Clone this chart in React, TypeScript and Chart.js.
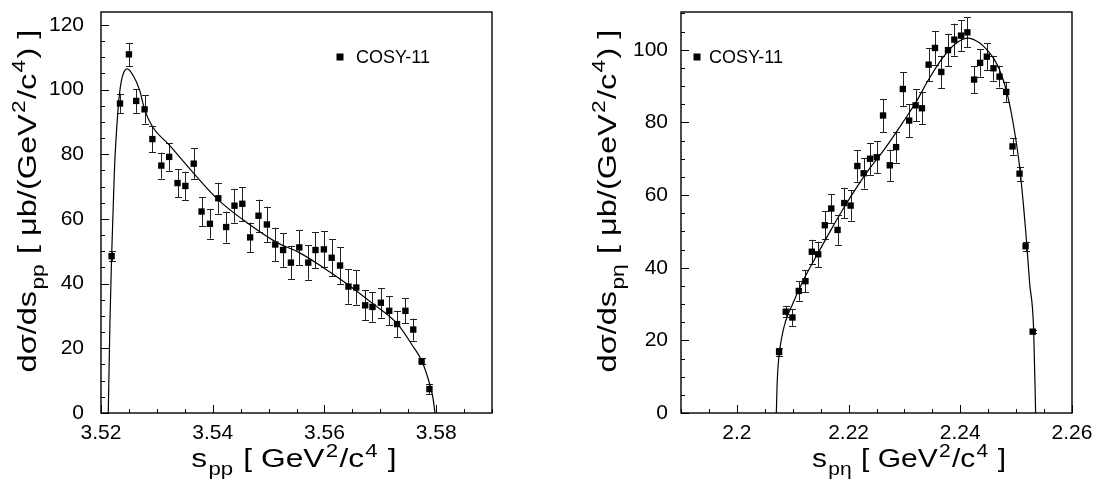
import React, { useEffect, useRef } from "react";
import { Chart, registerables } from "chart.js";

Chart.register(...registerables);

// ---------- Left panel: pp invariant mass ----------
const ppS = [3.5219, 3.5234, 3.525, 3.5263, 3.5278, 3.5292, 3.5308, 3.5322, 3.5337, 3.5351, 3.5366, 3.538, 3.5395, 3.541, 3.5424, 3.5439, 3.5453, 3.5467, 3.5482, 3.5497, 3.5512, 3.5526, 3.554, 3.5555, 3.5571, 3.5584, 3.5599, 3.5613, 3.5628, 3.5643, 3.5657, 3.5673, 3.5686, 3.5701, 3.5716, 3.573, 3.5745, 3.5759, 3.5774, 3.5788];
const ppY = [48.5, 95.7, 110.9, 96.5, 93.9, 84.7, 76.5, 79.2, 71.1, 70.2, 77.1, 62.3, 58.5, 66.4, 57.5, 64.1, 64.7, 54.3, 61.0, 58.3, 52.1, 50.4, 46.5, 51.2, 46.5, 50.4, 50.6, 48.0, 45.6, 39.1, 38.8, 33.3, 32.8, 34.1, 31.6, 27.5, 31.6, 25.8, 16.0, 7.4];
const ppErr = [1.5, 3.0, 3.6, 3.7, 4.4, 4.0, 4.0, 4.3, 4.3, 4.4, 4.7, 4.5, 4.6, 4.8, 4.8, 5.2, 5.2, 4.6, 5.0, 5.5, 5.2, 5.2, 5.2, 5.4, 5.3, 5.6, 5.6, 5.7, 5.7, 5.3, 5.3, 4.6, 4.6, 4.6, 4.5, 4.1, 3.9, 3.4, 1.0, 1.5];
const ppFitS = [3.5213, 3.5216, 3.5219, 3.5224, 3.523, 3.5234, 3.5239, 3.5247, 3.5257, 3.5269, 3.5278, 3.5292, 3.5322, 3.5366, 3.541, 3.5453, 3.5512, 3.5555, 3.5597, 3.5643, 3.5686, 3.573, 3.5759, 3.5774, 3.5788, 3.5794, 3.5798];
const ppFitY = [0, 28, 48.5, 75, 92.8, 100, 104.5, 106.4, 104.5, 99.9, 93.9, 88.6, 82.9, 74.1, 65.9, 59.9, 53.0, 49.6, 45.1, 39.6, 33.9, 27.7, 20.5, 16.2, 9.2, 5, 0];
const ppXTicks = [3.52, 3.54, 3.56, 3.58];
const ppYTicks = [0, 20, 40, 60, 80, 100, 120];

// ---------- Right panel: p-eta invariant mass ----------
const pEtaS = [2.20756, 2.20875, 2.20995, 2.21108, 2.21228, 2.21342, 2.21456, 2.21575, 2.2169, 2.21803, 2.21923, 2.22037, 2.22157, 2.2227, 2.22384, 2.22504, 2.22617, 2.22738, 2.22851, 2.22971, 2.23085, 2.232, 2.23313, 2.23433, 2.23547, 2.2366, 2.2378, 2.23893, 2.24014, 2.24127, 2.24247, 2.24355, 2.24475, 2.24594, 2.24702, 2.24822, 2.24935, 2.25061, 2.25169, 2.25296];
const pEtaY = [16.8, 27.9, 26.3, 33.6, 36.3, 44.4, 43.7, 51.7, 56.3, 50.4, 57.8, 57.1, 68.0, 66.0, 70.0, 70.4, 81.9, 68.2, 73.2, 89.2, 80.5, 84.7, 83.9, 95.9, 100.5, 93.9, 99.9, 102.8, 103.9, 104.8, 91.8, 96.4, 98.1, 94.9, 92.6, 88.4, 73.4, 65.9, 45.9, 22.4];
const pEtaErr = [1.2, 1.6, 2.3, 2.7, 3.1, 3.3, 3.5, 3.9, 4.0, 4.1, 4.2, 4.2, 4.3, 4.2, 4.4, 4.4, 4.6, 4.3, 4.3, 4.7, 4.5, 4.4, 4.4, 4.5, 4.6, 4.4, 4.5, 4.4, 4.3, 4.1, 3.7, 3.8, 3.7, 3.4, 3.0, 2.8, 2.3, 1.9, 1.3, 0.5];
const pEtaFitS = [2.20707, 2.2072, 2.20738, 2.20797, 2.20875, 2.20995, 2.21228, 2.21456, 2.21695, 2.21934, 2.22157, 2.22384, 2.22594, 2.22971, 2.232, 2.23433, 2.2366, 2.23893, 2.24127, 2.24355, 2.24475, 2.24594, 2.24702, 2.24822, 2.24935, 2.25061, 2.25169, 2.25241, 2.25313, 2.25349];
const pEtaFitY = [0, 7.5, 13, 20.3, 25.4, 29.9, 37.7, 44.1, 50.7, 57, 62.4, 67.5, 71.6, 80, 85.4, 91.8, 97.3, 101.4, 103.2, 101.8, 100, 97.7, 94.5, 89, 80.8, 67.9, 50.5, 35.9, 23.1, 0];
const pEtaXTicks = [2.2, 2.22, 2.24, 2.26];
const pEtaYTicks = [0, 20, 40, 60, 80, 100];

const legendLabel = "COSY-11";
const FONT = "'Liberation Sans', Arial, Helvetica, sans-serif";

type Seg = { t: string; k?: "sub" | "sup" };

const ppXTitle: Seg[] = [{ t: "s" }, { t: "pp", k: "sub" }, { t: " [ GeV" }, { t: "2", k: "sup" }, { t: "/c" }, { t: "4", k: "sup" }, { t: " ]" }];
const ppYTitle: Seg[] = [{ t: "dσ/ds" }, { t: "pp", k: "sub" }, { t: " [ μb/(GeV" }, { t: "2", k: "sup" }, { t: "/c" }, { t: "4", k: "sup" }, { t: ") ]" }];
const pEtaXTitle: Seg[] = [{ t: "s" }, { t: "pη", k: "sub" }, { t: " [ GeV" }, { t: "2", k: "sup" }, { t: "/c" }, { t: "4", k: "sup" }, { t: " ]" }];
const pEtaYTitle: Seg[] = [{ t: "dσ/ds" }, { t: "pη", k: "sub" }, { t: " [ μb/(GeV" }, { t: "2", k: "sup" }, { t: "/c" }, { t: "4", k: "sup" }, { t: ") ]" }];

function drawRich(ctx: CanvasRenderingContext2D, segs: Seg[], size: number, stretch: number) {
  const small = size * 0.7;
  const fontFor = (s: Seg) => `${s.k ? small : size}px ${FONT}`;
  let total = 0;
  const widths = segs.map((s) => {
    ctx.font = fontFor(s);
    const w = ctx.measureText(s.t).width + (s.k ? size * 0.08 : 0);
    total += w;
    return w;
  });
  ctx.save();
  ctx.scale(stretch, 1);
  let x = -total / 2;
  ctx.textBaseline = "alphabetic";
  ctx.textAlign = "left";
  ctx.fillStyle = "#000";
  segs.forEach((s, i) => {
    ctx.font = fontFor(s);
    let dy = 0;
    if (s.k === "sub") dy = size * 0.3;
    if (s.k === "sup") dy = -size * 0.42;
    ctx.fillText(s.t, x + (s.k ? size * 0.04 : 0), dy);
    x += widths[i];
  });
  ctx.restore();
}

const decorPlugin = {
  id: "decor",
  beforeDatasetsDraw(chart: any) {
    const ctx = chart.ctx as CanvasRenderingContext2D;
    const ys = chart.scales.y;
    ctx.save();
    ctx.strokeStyle = "#222";
    ctx.lineWidth = 1;
    chart.data.datasets.forEach((ds: any, i: number) => {
      if (!ds.errors) return;
      const meta = chart.getDatasetMeta(i);
      meta.data.forEach((pt: any, k: number) => {
        const v = ds.data[k].y;
        const e = ds.errors[k];
        const x = Math.round(pt.x) + 0.5;
        const yt = ys.getPixelForValue(v + e);
        const yb = ys.getPixelForValue(v - e);
        ctx.beginPath();
        ctx.moveTo(x, yt);
        ctx.lineTo(x, yb);
        ctx.moveTo(x - 3.5, Math.round(yt) + 0.5);
        ctx.lineTo(x + 3.5, Math.round(yt) + 0.5);
        ctx.moveTo(x - 3.5, Math.round(yb) + 0.5);
        ctx.lineTo(x + 3.5, Math.round(yb) + 0.5);
        ctx.stroke();
      });
    });
    ctx.restore();
  },
  afterDraw(chart: any, _a: any, opts: any) {
    const ctx = chart.ctx as CanvasRenderingContext2D;
    const { left, right, top, bottom } = chart.chartArea;
    const xs = chart.scales.x;
    const ys = chart.scales.y;
    ctx.save();
    // frame
    ctx.strokeStyle = "#000";
    ctx.lineWidth = 1.4;
    ctx.strokeRect(left, top, right - left, bottom - top);
    // ticks (inward, bottom and left axes only)
    ctx.lineWidth = 1;
    ctx.beginPath();
    const xStart = Math.ceil(xs.min / opts.xMinor - 1e-6);
    for (let j = xStart; j * opts.xMinor <= xs.max + 1e-9; j++) {
      const v = j * opts.xMinor;
      const major = Math.abs(v / opts.xMajor - Math.round(v / opts.xMajor)) < 1e-6;
      const px = Math.round(xs.getPixelForValue(v)) + 0.5;
      ctx.moveTo(px, bottom);
      ctx.lineTo(px, bottom - (major ? 8 : 4));
    }
    for (let v = ys.min; v <= ys.max + 1e-9; v += opts.yMinor) {
      const major = Math.abs(v % opts.yMajor) < 1e-6;
      const py = Math.round(ys.getPixelForValue(v)) + 0.5;
      ctx.moveTo(left, py);
      ctx.lineTo(left + (major ? 8 : 4), py);
    }
    ctx.stroke();
    // legend
    ctx.fillStyle = "#000";
    ctx.fillRect(opts.legend.x - 3.5, opts.legend.y - 3.5, 7, 7);
    ctx.font = `18px ${FONT}`;
    ctx.textBaseline = "middle";
    ctx.textAlign = "left";
    ctx.fillText(opts.legend.text, opts.legend.tx, opts.legend.y + 1);
    // x title
    ctx.save();
    ctx.translate(opts.xTitle.cx, opts.xTitle.base);
    drawRich(ctx, opts.xTitle.segs, opts.xTitle.size, opts.xTitle.stretch);
    ctx.restore();
    // y title
    ctx.save();
    ctx.translate(opts.yTitle.base, opts.yTitle.cy);
    ctx.rotate(-Math.PI / 2);
    drawRich(ctx, opts.yTitle.segs, opts.yTitle.size, opts.yTitle.stretch);
    ctx.restore();
    ctx.restore();
  },
};

type PanelSpec = {
  s: number[]; y: number[]; err: number[]; fitS: number[]; fitY: number[];
  xMin: number; xMax: number; yMax: number; xTicks: number[]; yTicks: number[];
  yWidth: number; rightPad: number; yPad: number;
  decor: any;
};

function zeroPad(s: any) {
  s.paddingTop = 0;
  s.paddingBottom = 0;
  s.paddingLeft = 0;
  s.paddingRight = 0;
}

function Panel({ spec }: { spec: PanelSpec }) {
  const ref = useRef<HTMLCanvasElement | null>(null);
  useEffect(() => {
    if (!ref.current) return;
    const points = spec.s.map((x, i) => ({ x, y: spec.y[i] }));
    const fit = spec.fitS.map((x, i) => ({ x, y: spec.fitY[i] }));
    const tickFont = { family: FONT, size: 21 };
    const chart = new Chart(ref.current, {
      type: "scatter",
      data: {
        datasets: [
          {
            type: "line",
            data: fit,
            borderColor: "#000",
            borderWidth: 1.2,
            pointRadius: 0,
            cubicInterpolationMode: "monotone",
            fill: false,
            order: 2,
          } as any,
          {
            data: points,
            pointStyle: "rect",
            pointRadius: 4.5,
            backgroundColor: "#000",
            borderColor: "#000",
            borderWidth: 0,
            order: 1,
            errors: spec.err,
          } as any,
        ],
      },
      options: {
        responsive: false,
        animation: false,
        devicePixelRatio: 1,
        events: [],
        layout: { padding: { top: 12, right: spec.rightPad, left: 0, bottom: 0 } },
        plugins: {
          legend: { display: false },
          tooltip: { enabled: false },
          decor: spec.decor,
        } as any,
        scales: {
          x: {
            type: "linear",
            min: spec.xMin,
            max: spec.xMax,
            grid: { display: false, drawTicks: false },
            border: { display: false },
            afterFit: (s: any) => { s.height = 72; zeroPad(s); },
            afterBuildTicks: (s: any) => { s.ticks = spec.xTicks.map((v) => ({ value: v })); },
            ticks: { font: tickFont, color: "#000", padding: 8, maxRotation: 0, autoSkip: false, callback: (v: any) => String(v) },
          },
          y: {
            type: "linear",
            min: 0,
            max: spec.yMax,
            grid: { display: false, drawTicks: false },
            border: { display: false },
            afterFit: (s: any) => { s.width = spec.yWidth; zeroPad(s); },
            afterBuildTicks: (s: any) => { s.ticks = spec.yTicks.map((v) => ({ value: v })); },
            ticks: { font: tickFont, color: "#000", padding: spec.yPad, autoSkip: false, callback: (v: any) => String(v) },
          },
        },
      },
      plugins: [decorPlugin as any],
    });
    return () => chart.destroy();
  }, [spec]);
  return <canvas ref={ref} width={548} height={485} style={{ display: "block", width: 548, height: 485 }} />;
}

const leftSpec: PanelSpec = {
  s: ppS, y: ppY, err: ppErr, fitS: ppFitS, fitY: ppFitY,
  xMin: 3.52, xMax: 3.59, yMax: 124, xTicks: ppXTicks, yTicks: ppYTicks,
  yWidth: 101, rightPad: 56, yPad: 17,
  decor: {
    xMinor: 0.005, xMajor: 0.02, yMinor: 5, yMajor: 20,
    legend: { x: 340, y: 57, tx: 356, text: legendLabel },
    xTitle: { segs: ppXTitle, cx: 294, base: 467, size: 25, stretch: 1.27 },
    yTitle: { segs: ppYTitle, cy: 201, base: 36, size: 26, stretch: 1.25 },
  },
};

const rightSpec: PanelSpec = {
  s: pEtaS, y: pEtaY, err: pEtaErr, fitS: pEtaFitS, fitY: pEtaFitY,
  xMin: 2.19, xMax: 2.26, yMax: 110.4, xTicks: pEtaXTicks, yTicks: pEtaYTicks,
  yWidth: 133, rightPad: 24, yPad: 13,
  decor: {
    xMinor: 0.005, xMajor: 0.02, yMinor: 5, yMajor: 20,
    legend: { x: 149, y: 57, tx: 161, text: legendLabel },
    xTitle: { segs: pEtaXTitle, cx: 361, base: 467, size: 25, stretch: 1.2 },
    yTitle: { segs: pEtaYTitle, cy: 201, base: 68, size: 26, stretch: 1.25 },
  },
};

export default function App() {
  return (
    <div style={{ position: "fixed", left: 0, top: 0, width: 1096, height: 485, display: "flex", background: "#fff" }}>
      <Panel spec={leftSpec} />
      <Panel spec={rightSpec} />
    </div>
  );
}
